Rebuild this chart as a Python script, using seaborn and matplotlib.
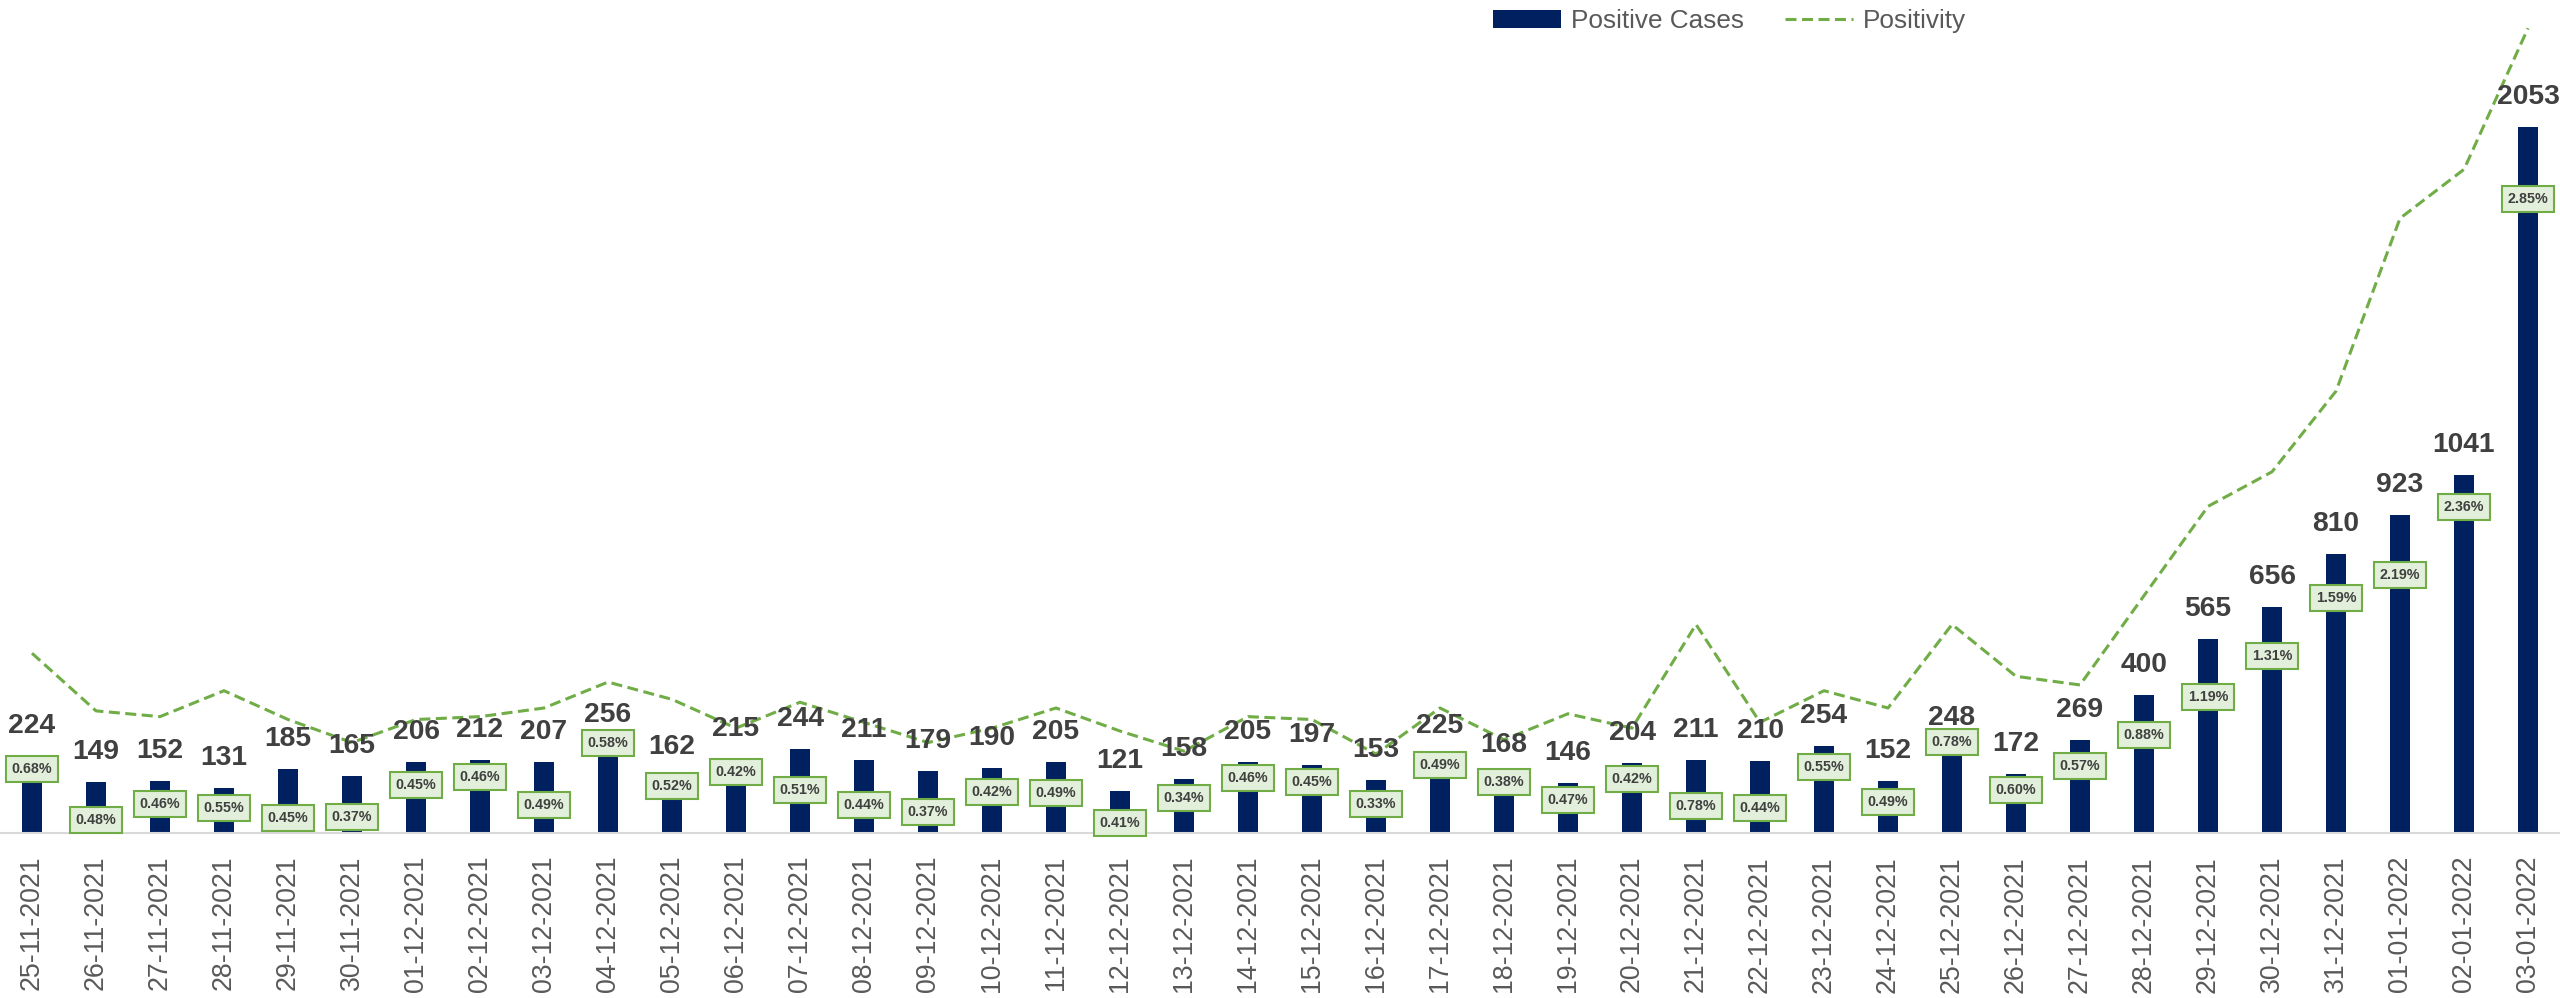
import numpy as np
import pandas as pd
import seaborn as sns
import matplotlib
matplotlib.use('Agg')
import matplotlib.pyplot as plt
from matplotlib.patches import Patch
from matplotlib.lines import Line2D

dates = ['25-11-2021', '26-11-2021', '27-11-2021', '28-11-2021', '29-11-2021', '30-11-2021',
         '01-12-2021', '02-12-2021', '03-12-2021', '04-12-2021', '05-12-2021', '06-12-2021',
         '07-12-2021', '08-12-2021', '09-12-2021', '10-12-2021', '11-12-2021', '12-12-2021',
         '13-12-2021', '14-12-2021', '15-12-2021', '16-12-2021', '17-12-2021', '18-12-2021',
         '19-12-2021', '20-12-2021', '21-12-2021', '22-12-2021', '23-12-2021', '24-12-2021',
         '25-12-2021', '26-12-2021', '27-12-2021', '28-12-2021', '29-12-2021', '30-12-2021',
         '31-12-2021', '01-01-2022', '02-01-2022', '03-01-2022']
cases = [224, 149, 152, 131, 185, 165, 206, 212, 207, 256, 162, 215, 244, 211, 179, 190, 205,
         121, 158, 205, 197, 153, 225, 168, 146, 204, 211, 210, 254, 152, 248, 172, 269, 400,
         565, 656, 810, 923, 1041, 2053]
positivity = [0.68, 0.48, 0.46, 0.55, 0.45, 0.37, 0.45, 0.46, 0.49, 0.58, 0.52, 0.42, 0.51,
              0.44, 0.37, 0.42, 0.49, 0.41, 0.34, 0.46, 0.45, 0.33, 0.49, 0.38, 0.47, 0.42,
              0.78, 0.44, 0.55, 0.49, 0.78, 0.60, 0.57, 0.88, 1.19, 1.31, 1.59, 2.19, 2.36, 2.85]

# how far (px) each percentage box sits below the top of its bar
box_drop = [13, 38, 23, 20, 49, 41, 23, 17, 43, -2, 9,
            13, 41, 45, 41, 24, 31, 32, 19, 16, 17, 24,
            9, 7, 17, 16, 46, 47, 21, 21,
            -6, 16, 26, 40, 58, 49, 44, 60, 32, 72]

NAVY = '#002060'
GREEN = '#70AD47'
PX = 0.72  # points per pixel at dpi 100

sns.set_theme(style='white')
plt.rcParams['font.family'] = ['Liberation Sans', 'DejaVu Sans']

df = pd.DataFrame({'date': dates, 'cases': cases, 'positivity': positivity})

fig = plt.figure(figsize=(25.6, 9.98), dpi=100)
ax = fig.add_axes([0, 165 / 998, 1, 833 / 998])

sns.barplot(data=df, x='date', y='cases', color=NAVY, saturation=1, width=0.31,
            edgecolor='none', ax=ax)
ax.set_xlim(-0.5, 39.5)
ax.set_ylim(0, 2421)
ax.set_yticks([])
ax.set_xlabel('')
ax.set_ylabel('')
for s in ['left', 'right', 'top']:
    ax.spines[s].set_visible(False)
ax.spines['bottom'].set_color('#D9D9D9')
ax.spines['bottom'].set_linewidth(1.5)
ax.tick_params(axis='x', length=0, pad=16.5, labelsize=19.3, labelcolor='#595959',
               rotation=90)

ax2 = ax.twinx()
sns.lineplot(x=df.index, y=df['positivity'], ax=ax2, color=GREEN, linewidth=2.2)
ax2.lines[0].set_dashes((3.6, 1.8))
ax2.set_ylim(0.056, 2.948)
ax2.set_yticks([])
ax2.set_ylabel('')
for s in ax2.spines.values():
    s.set_visible(False)

for i, (c, p, d) in enumerate(zip(cases, positivity, box_drop)):
    ax2.annotate(str(c), xy=(i, c), xycoords=ax.transData, xytext=(0, 30 * PX),
                 textcoords='offset points', ha='center', va='center',
                 fontsize=20.3, fontweight='bold', color='#404040')
    ax2.annotate(f'{p:.2f}%', xy=(i, c), xycoords=ax.transData, xytext=(0, -d * PX),
                 textcoords='offset points', ha='center', va='center',
                 fontsize=10.3, fontweight='bold', color='#404040',
                 bbox=dict(boxstyle='square,pad=0.42', fc='#E2EFDA', ec=GREEN, lw=1.5))

handles = [Patch(facecolor=NAVY, edgecolor='none'),
           Line2D([], [], color=GREEN, linewidth=2.2, dashes=(3.6, 1.8))]
fig.legend(handles, ['Positive Cases', 'Positivity'], loc='center left',
           bbox_to_anchor=(1493 / 2560, 1 - 21 / 998), ncol=2, frameon=False,
           fontsize=18.8, handlelength=2.6, handletextpad=0.38, columnspacing=1.57,
           borderpad=0, borderaxespad=0, labelcolor='#595959')

fig.savefig('out.png', dpi=100)
